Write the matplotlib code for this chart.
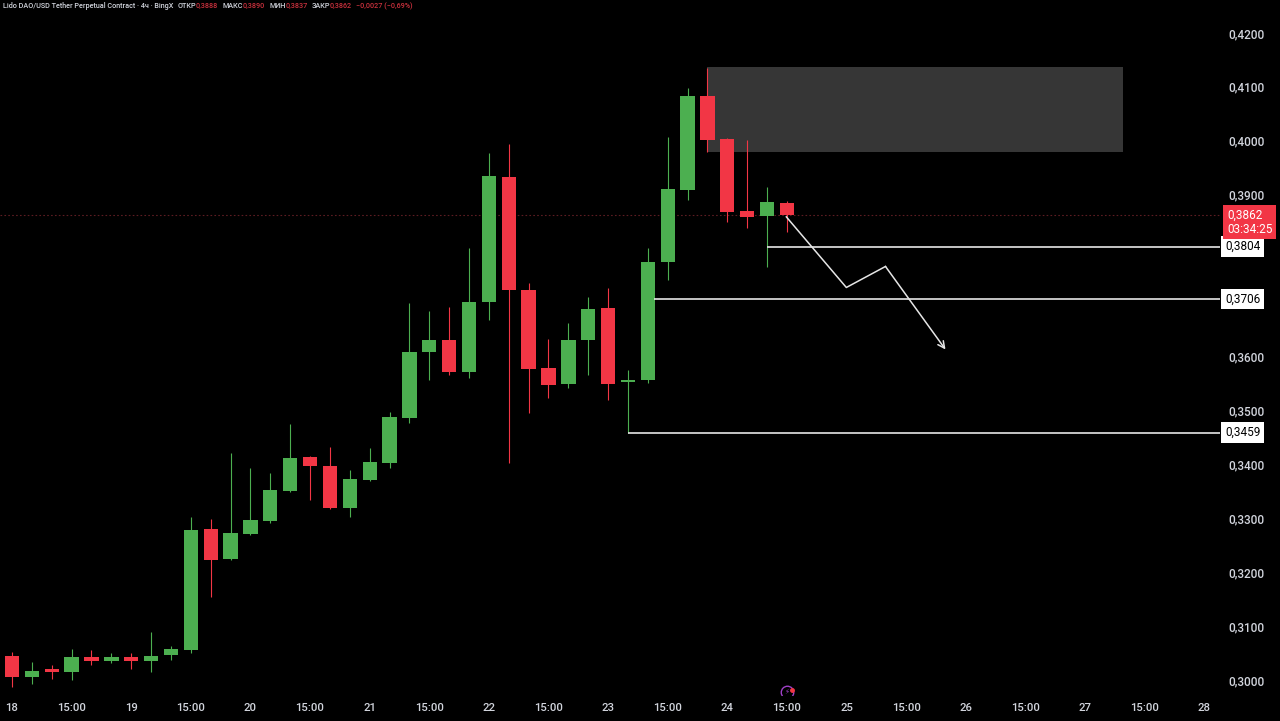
import matplotlib
matplotlib.use("Agg")
import matplotlib.pyplot as plt
import matplotlib.transforms as mtransforms
from matplotlib.ticker import FuncFormatter

# 4h свечи LDO/USDT, начиная с 18-го 03:00
opens = [0.3045, 0.3006, 0.3020, 0.3015, 0.3043, 0.3035, 0.3043, 0.3035, 0.3046, 0.3056,
         0.3280, 0.3224, 0.3271, 0.3295, 0.3351, 0.3414, 0.3397, 0.3319, 0.3371, 0.3403,
         0.3486, 0.3608, 0.3631, 0.3571, 0.3701, 0.3933, 0.3723, 0.3579, 0.3549, 0.3631,
         0.3690, 0.3552, 0.3556, 0.3775, 0.3909, 0.4083, 0.4003, 0.3870, 0.3861, 0.3885]
highs = [0.3052, 0.3034, 0.3028, 0.3057, 0.3056, 0.3050, 0.3050, 0.3089, 0.3063, 0.3302,
         0.3299, 0.3421, 0.3393, 0.3384, 0.3475, 0.3416, 0.3432, 0.3390, 0.3430, 0.3497,
         0.3699, 0.3684, 0.3692, 0.3801, 0.3978, 0.3994, 0.3736, 0.3632, 0.3662, 0.3710,
         0.3727, 0.3575, 0.3801, 0.4007, 0.4098, 0.4135, 0.4005, 0.4002, 0.3914, 0.3888]
lows = [0.2987, 0.2993, 0.3002, 0.3000, 0.3028, 0.3032, 0.3021, 0.3015, 0.3037, 0.3050,
        0.3154, 0.3222, 0.3269, 0.3292, 0.3349, 0.3334, 0.3318, 0.3302, 0.3369, 0.3393,
        0.3477, 0.3556, 0.3566, 0.3560, 0.3668, 0.3403, 0.3495, 0.3523, 0.3542, 0.3566,
        0.3519, 0.3459, 0.3551, 0.3742, 0.3890, 0.3979, 0.3850, 0.3838, 0.3766, 0.3831]
closes = [0.3006, 0.3017, 0.3015, 0.3043, 0.3035, 0.3043, 0.3036, 0.3045, 0.3058, 0.3278,
          0.3223, 0.3273, 0.3297, 0.3352, 0.3412, 0.3397, 0.3319, 0.3373, 0.3404, 0.3488,
          0.3608, 0.3631, 0.3571, 0.3701, 0.3935, 0.3723, 0.3577, 0.3547, 0.3631, 0.3688,
          0.3549, 0.3556, 0.3775, 0.3911, 0.4083, 0.4002, 0.3868, 0.3859, 0.3887, 0.3862]

day_labels = ["18", "19", "20", "21", "22", "23", "24", "25", "26", "27", "28"]
# 0,3700 и 0,3800 закрыты метками уровней
price_ticks = [0.30, 0.31, 0.32, 0.33, 0.34, 0.35, 0.36, 0.39, 0.40, 0.41, 0.42]

# уровни
levels = [0.3804, 0.3706, 0.3459]
level_start = [38, 32.3, 31]
last_price = 0.3862
timer = "03:34:25"
zone_x = [34.96, 55.9]
zone_y = [0.3979, 0.4137]
path_x = [38.97, 41.99, 43.96, 46.98]
path_y = [0.3859, 0.3728, 0.3767, 0.3613]

GREEN = "#4caf50"
RED = "#f23645"
TXT = "#d1d4dc"

W, H = 1280, 721
fig = plt.figure(figsize=(12.8, 7.21), dpi=100, facecolor="black")
ax = fig.add_axes([0, 1 - 695 / H, 1220 / W, 695 / H], facecolor="black")

px_per_bar = 19.87
px_per_unit = 647 / 0.12
ax.set_xlim(-12 / px_per_bar, (1220 - 12) / px_per_bar)
ax.set_ylim(0.42 - 662 / px_per_unit, 0.42 + 33 / px_per_unit)

for i in range(len(opens)):
    o, h, l, c = opens[i], highs[i], lows[i], closes[i]
    col = GREEN if c >= o else RED
    ax.vlines(i, l, h, color=col, lw=0.8, zorder=3)
    ax.bar(i, max(abs(c - o), 0.00015), bottom=min(o, c), width=0.72, color=col, zorder=4)

# серая зона
ax.fill_between(zone_x, zone_y[0], zone_y[1], color="#363636", lw=0, zorder=2)

# пунктир текущей цены
ax.axhline(last_price, color="#5c1c22", lw=0.8, ls=(0, (1.5, 2)), zorder=1)

# горизонтальные уровни
for lv, xs in zip(levels, level_start):
    ax.hlines(lv, xs, ax.get_xlim()[1], color="#e6e6e6", lw=1.2, zorder=5)

# стрелка
ax.plot(path_x[:3], path_y[:3], color="#e6e6e6", lw=1.1, zorder=6)
ax.annotate("", xy=(path_x[3], path_y[3]), xytext=(path_x[2], path_y[2]),
            arrowprops=dict(arrowstyle="->", color="#e6e6e6", lw=1.1,
                            shrinkA=0, shrinkB=0, mutation_scale=12), zorder=6)

# значок внизу
ax.plot([39], [0.29783], marker="o", ms=9, mfc="none", mec="#a040c8", mew=1.0, zorder=6)
ax.text(39, 0.29783, "⚡", color="#a040c8", fontsize=5, ha="center", va="center", zorder=7)
ax.plot([39.25], [0.29815], marker="o", ms=2.5, color="#f23645", zorder=7)

# оси
for s in ax.spines.values():
    s.set_visible(False)
ax.yaxis.tick_right()
ax.set_yticks(price_ticks)
ax.yaxis.set_major_formatter(FuncFormatter(lambda v, p: f"{v:.4f}".replace(".", ",")))
ax.tick_params(axis="y", length=0, pad=6, labelsize=8.5, labelcolor=TXT)

xt = list(range(0, 61, 3))
xl = []
for k in range(len(xt)):
    xl.append(day_labels[k // 2] if k % 2 == 0 else "15:00")
ax.set_xticks(xt)
ax.set_xticklabels(xl)
ax.tick_params(axis="x", length=0, pad=6, labelsize=8.2, labelcolor=TXT)
for lab in ax.get_xticklabels() + ax.get_yticklabels():
    lab.set_family("Roboto")
    lab.set_fontweight("medium")

# метки уровней на шкале
blend = mtransforms.blended_transform_factory(ax.transAxes, ax.transData)
for lv in levels:
    ax.text(1.0 + 5 / 1220, lv, f"{lv:.4f}".replace(".", ","), transform=blend,
            ha="left", va="center", fontsize=8.5, color="black", family="Roboto",
            bbox=dict(facecolor="white", edgecolor="none", boxstyle="square,pad=0.3"), zorder=10)

ax.text(1.0 + 7 / 1220, last_price - 0.0013,
        f"{last_price:.4f}".replace(".", ",") + "\n" + timer, transform=blend,
        ha="left", va="center", fontsize=8.5, color="white", family="Roboto", linespacing=1.1,
        bbox=dict(facecolor=RED, edgecolor="none", boxstyle="square,pad=0.3"), zorder=10)

# заголовок, куски идут друг за другом
yh = 1 - 6 / H
parts = [
    ("Lido DAO/USD Tether Perpetual Contract · 4ч · BingX", TXT, 3),
    ("ОТКР", TXT, 4), ("0,3888", "#c8303c", 0),
    ("МАКС", TXT, 4), ("0,3890", "#c8303c", 0),
    ("МИН", TXT, 4), ("0,3837", "#c8303c", 0),
    ("ЗАКР", TXT, 4), ("0,3862", "#c8303c", 0),
    ("−0,0027 (−0,69%)", "#c8303c", 4),
]
renderer = fig.canvas.get_renderer()
x = 0
for s, c, gap in parts:
    x += gap
    t = fig.text(x / W, yh, s, color=c, fontsize=5.2, ha="left", va="center",
                 family="Roboto", fontweight="medium")
    x = t.get_window_extent(renderer).x1

fig.savefig("out.png", dpi=100, facecolor="black")
